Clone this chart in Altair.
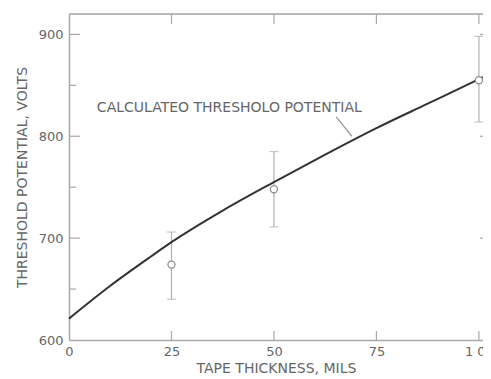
import altair as alt
import pandas as pd

# Calculated threshold potential curve
curve_x = [0, 10, 20, 25, 37.5, 50, 62.5, 75, 87.5, 100, 101]
curve_y = [621, 653, 682, 696, 727, 755, 782, 808, 832, 856, 858]

# Measured points with error bars
pt_x = [25, 50, 100]
pt_y = [674, 748, 855]
pt_lo = [640, 711, 814]
pt_hi = [706, 785, 898]

x_ticks = [0, 25, 50, 75, 100]
y_major = [700, 800, 900]
y_minor = [650, 750, 850]
y_labels_vals = [600, 700, 800, 900]

label_text = "CALCULATEO THRESHOLO POTENTIAL"

W, H = 414, 326
AX = "#a8a8a8"
TXT = "#666666"
FONT = "DejaVu Sans"

xs = alt.Scale(domain=[0, 101], nice=False, zero=False)
ys = alt.Scale(domain=[600, 920], nice=False, zero=False)

curve_df = pd.DataFrame({"x": curve_x, "y": curve_y})
pts_df = pd.DataFrame({"x": pt_x, "y": pt_y, "lo": pt_lo, "hi": pt_hi})
xt_df = pd.DataFrame({"v": x_ticks[1:]})
ymaj_df = pd.DataFrame({"v": y_major})
ymin_df = pd.DataFrame({"v": y_minor})

label_expr = "datum.value == 100 ? '1 00' : datum.label"

curve = alt.Chart(curve_df).mark_line(
    color="#333333", strokeWidth=2, interpolate="monotone"
).encode(
    x=alt.X("x:Q", scale=xs, axis=alt.Axis(
        values=x_ticks, tickSize=0, domain=True, domainColor=AX,
        domainWidth=1.5, grid=False,
        labelExpr=label_expr, labelPadding=5, labelFlush=False,
        labelFont=FONT, labelFontSize=13, labelColor=TXT,
        title="TAPE THICKNESS, MILS", titleFont=FONT, titleFontSize=14,
        titleFontWeight="normal", titleColor=TXT, titlePadding=3,
        titleX=207, titleAnchor="middle")),
    y=alt.Y("y:Q", scale=ys, axis=alt.Axis(
        values=y_labels_vals, tickSize=0, domain=True, domainColor=AX,
        domainWidth=1.5, grid=False, labelFlush=False,
        labelPadding=6, labelFont=FONT, labelFontSize=13, labelColor=TXT,
        title="THRESHOLD POTENTIAL, VOLTS", titleFont=FONT, titleFontSize=14,
        titleFontWeight="normal", titleColor=TXT, titlePadding=9)),
)

err = alt.Chart(pts_df).mark_rule(color="#b0b0b0", strokeWidth=1.2).encode(
    x=alt.X("x:Q", scale=xs), y=alt.Y("lo:Q", scale=ys), y2="hi:Q")
cap_lo = alt.Chart(pts_df).mark_tick(color="#b0b0b0", orient="horizontal",
                                     size=9, thickness=1.2).encode(
    x=alt.X("x:Q", scale=xs), y=alt.Y("lo:Q", scale=ys))
cap_hi = alt.Chart(pts_df).mark_tick(color="#b0b0b0", orient="horizontal",
                                     size=9, thickness=1.2).encode(
    x=alt.X("x:Q", scale=xs), y=alt.Y("hi:Q", scale=ys))
pts = alt.Chart(pts_df).mark_point(shape="circle", filled=True, fill="white",
                                   stroke="#909090", strokeWidth=1.3, size=50,
                                   opacity=1).encode(
    x=alt.X("x:Q", scale=xs), y=alt.Y("y:Q", scale=ys))

# top border
top = alt.Chart(pd.DataFrame({"a": [0]})).mark_rule(
    color=AX, strokeWidth=1.5).encode(
    y=alt.value(0), x=alt.value(0), x2=alt.value(W))

# inward ticks
bt = alt.Chart(xt_df).mark_rule(color=AX, strokeWidth=1.2).encode(
    x=alt.X("v:Q", scale=xs), y=alt.value(H), y2=alt.value(H - 9))
tt = alt.Chart(xt_df).mark_rule(color=AX, strokeWidth=1.2).encode(
    x=alt.X("v:Q", scale=xs), y=alt.value(0), y2=alt.value(10))
lt = alt.Chart(ymaj_df).mark_rule(color=AX, strokeWidth=1.2).encode(
    y=alt.Y("v:Q", scale=ys), x=alt.value(0), x2=alt.value(11))
lm = alt.Chart(ymin_df).mark_rule(color=AX, strokeWidth=1.2).encode(
    y=alt.Y("v:Q", scale=ys), x=alt.value(0), x2=alt.value(7))
rt = alt.Chart(ymaj_df).mark_rule(color=AX, strokeWidth=1.2).encode(
    y=alt.Y("v:Q", scale=ys), x=alt.value(W - 3), x2=alt.value(W))

ann = alt.Chart(pd.DataFrame({"t": [label_text]})).mark_text(
    align="left", baseline="middle", font=FONT, fontSize=14, color=TXT
).encode(x=alt.datum(6.8, scale=xs), y=alt.datum(828, scale=ys), text="t:N")

arrow = alt.Chart(pd.DataFrame({"a": [0]})).mark_rule(
    color="#999999", strokeWidth=1.2).encode(
    x=alt.datum(65.2, scale=xs), y=alt.datum(819, scale=ys),
    x2=alt.datum(69.0), y2=alt.datum(800))

chart = alt.layer(
    top, tt, bt, lt, lm, rt, err, cap_lo, cap_hi, curve, ann, arrow, pts
).properties(
    width=W, height=H,
    autosize=alt.AutoSizeParams(type="none"),
    padding={"left": 61, "top": 6, "right": 0, "bottom": 39},
).configure_view(stroke=None).configure(background="white")

chart.save("out.html", embed_options={"renderer": "svg", "actions": False})
